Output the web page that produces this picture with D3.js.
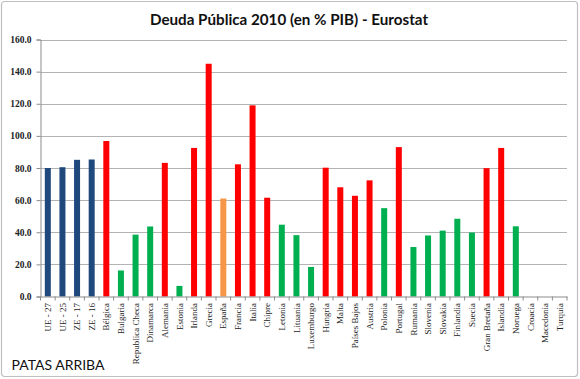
<!DOCTYPE html>
<html><head><meta charset="utf-8">
<script src="https://cdn.jsdelivr.net/npm/d3@7"></script>
<style>body{margin:0;background:#fff}svg{display:block}</style>
</head><body>
<svg id="c" width="580" height="379"></svg>
<script>
const categories = ["UE - 27","UE - 25","ZE - 17","ZE - 16","Bélgica","Bulgaria","Republica Checa","Dinamarca","Alemania","Estonia","Irlanda","Grecia","España","Francia","Italia","Chipre","Letonia","Lituania","Luxemburgo","Hungria","Malta","Países Bajos","Austria","Polonia","Portugal","Rumania","Slovenia","Slovakia","Finlandia","Suecia","Gran Bretaña","Islandia","Noruega","Croacia","Macedonia","Turquia"];
const values = [80.0,80.5,85.1,85.3,96.8,16.2,38.5,43.6,83.2,6.6,92.5,144.9,61.0,82.3,119.0,61.5,44.7,38.2,18.4,80.2,68.0,62.7,72.3,55.0,93.0,30.8,38.0,41.0,48.4,39.8,79.9,92.5,43.7,null,null,null];
const groups = ["agg","agg","agg","agg","high","low","low","low","high","low","high","high","mid","high","high","high","low","low","low","high","high","high","high","low","high","low","low","low","low","low","high","high","low","none","none","none"];
const yTicks = [0,20,40,60,80,100,120,140,160];
const colors = {agg:"#1f497d", high:"#ff0000", low:"#00b050", mid:"#f79646", none:"#ffffff"};

const svg = d3.select("#c");
svg.append("rect").attr("x",1.5).attr("y",1.5).attr("width",576).attr("height",375)
  .attr("rx",3).attr("fill","#fff").attr("stroke","#bfbfbf").attr("stroke-width",1.2);

const m = {l:40.5, r:567, t:39.5, b:296.5};
const x = d3.scaleBand().domain(categories).range([m.l, m.r]).paddingInner(0.59).paddingOuter(0.295);
const xb = d3.scaleBand().domain(categories).range([m.l, m.r]);
const y = d3.scaleLinear().domain([0,160]).range([m.b, m.t]);

// gridlines
svg.append("g").selectAll("line").data(yTicks.filter(d=>d>0)).join("line")
  .attr("x1", m.l).attr("x2", m.r).attr("y1", d=>Math.round(y(d))+0.5).attr("y2", d=>Math.round(y(d))+0.5)
  .attr("stroke","#b3b3b3").attr("stroke-width",1.2);

// y axis
const ya = svg.append("g").attr("transform",`translate(${m.l},0)`)
  .call(d3.axisLeft(y).tickValues(yTicks).tickFormat(d3.format(".1f")).tickSize(4).tickPadding(5));
ya.select(".domain").attr("stroke","#8c8c8c");
ya.selectAll(".tick line").attr("stroke","#8c8c8c");
ya.selectAll("text").attr("font-family","Liberation Serif").attr("font-weight","bold").attr("font-size","9.5px").attr("fill","#222");

// bars
svg.append("g").selectAll("rect").data(categories.map((c,i)=>({c,v:values[i],g:groups[i]})).filter(d=>d.v!=null)).join("rect")
  .attr("x", d=>x(d.c)).attr("width", x.bandwidth())
  .attr("y", d=>y(d.v)).attr("height", d=>y(0)-y(d.v))
  .attr("fill", d=>colors[d.g]);

// x axis
const xa = svg.append("g").attr("transform",`translate(0,${m.b})`)
  .call(d3.axisBottom(xb).tickSize(0).tickPadding(0));
xa.select(".domain").attr("stroke","#8c8c8c");
svg.append("g").selectAll("line").data(categories.concat(["_end"])).join("line")
  .attr("x1",(d,i)=>m.l + i*xb.bandwidth()).attr("x2",(d,i)=>m.l + i*xb.bandwidth())
  .attr("y1",m.b).attr("y2",m.b+4).attr("stroke","#8c8c8c");
xa.selectAll("text")
  .attr("font-family","Liberation Serif").attr("font-size","9px").attr("fill","#222")
  .attr("text-anchor","end").attr("dy","0.35em")
  .attr("transform","translate(0,6.5) rotate(-90)").attr("x",0).attr("y",0);

// title
svg.append("text").attr("x",289).attr("y",25).attr("text-anchor","middle")
  .attr("font-family","Lato").attr("font-weight","bold").attr("font-size","15.2px").attr("fill","#111")
  .text("Deuda Pública 2010 (en % PIB) - Eurostat");

svg.append("text").attr("x",11.5).attr("y",370)
  .attr("font-family","Lato").attr("font-size","14px").attr("fill","#111")
  .text("PATAS ARRIBA");
</script>
</body></html>
